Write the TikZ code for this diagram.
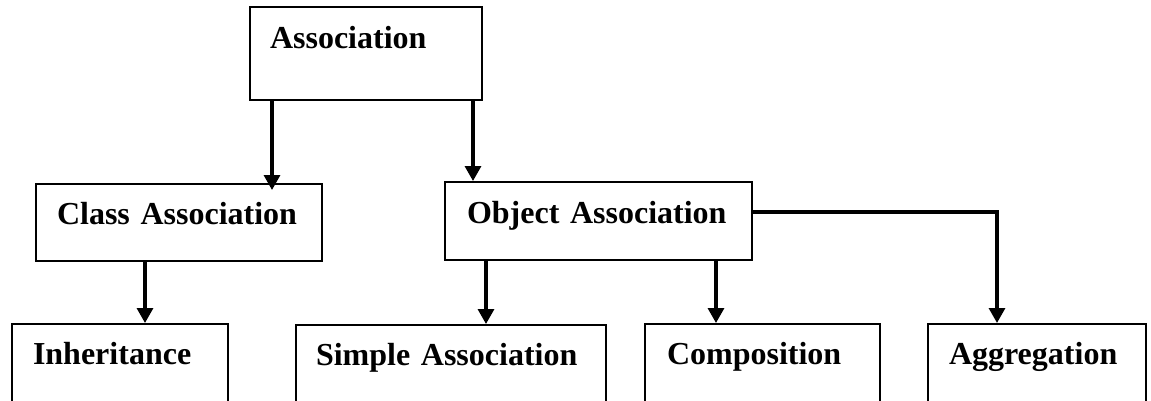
\documentclass[tikz,border=0pt]{standalone}
\usepackage{fontspec}
\setmainfont{Liberation Serif}
\usetikzlibrary{arrows.meta}

\newcommand{\boxfont}{\fontsize{32}{38}\selectfont\bfseries\spaceskip=7pt\relax}

\begin{document}
\begin{tikzpicture}[
    x=1pt, y=-1pt,
    box/.style={draw, line width=2pt, anchor=north west, align=left,
        inner ysep=0pt, font=\boxfont},
    link/.style={line width=3.2pt},
    arrow/.style={link, -{Triangle[width=16pt,length=15pt]}}
]

% Frame of the picture
\clip (0,0) rectangle (1151,400);

% Draw the boxes
\node[box, inner xsep=20pt, text width=192pt, text height=41pt, text depth=52pt] (assoc) at (249,6) {Association};
\node[box, inner xsep=21pt, text width=244pt, text height=40pt, text depth=37pt] (class) at (35,183) {Class Association};
\node[box, inner xsep=22pt, text width=263pt, text height=41pt, text depth=37pt] (object) at (444,181) {Object Association};
\node[box, inner xsep=21pt, text width=174pt, text height=40pt, text depth=60pt] (inherit) at (11,323) {Inheritance};
\node[box, inner xsep=20pt, text width=270pt, text height=40pt, text depth=60pt] (simple) at (295,324) {Simple Association};
\node[box, inner xsep=22pt, text width=191pt, text height=40pt, text depth=60pt] (compo) at (644,323) {Composition};
\node[box, inner xsep=21pt, text width=176pt, text height=40pt, text depth=60pt] (aggr) at (927,323) {Aggregation};

% Draw the arrows
\draw[arrow] ([xshift=23pt]assoc.south west) -- ([xshift=23pt, yshift=-7pt]assoc.south west |- class.north);
\draw[arrow] ([xshift=-10pt]assoc.south east) -- ([xshift=-10pt]assoc.south east |- object.north);
\draw[arrow] ([xshift=110pt]class.south west) -- ([xshift=110pt]class.south west |- inherit.north);
\draw[arrow] ([xshift=42pt]object.south west) -- ([xshift=42pt]object.south west |- simple.north);
\draw[arrow] ([xshift=72pt]compo.north west |- object.south) -- ([xshift=72pt]compo.north west);
\draw[arrow] ([yshift=9pt]object.east) -| ([xshift=70pt]aggr.north west);

\end{tikzpicture}
\end{document}
